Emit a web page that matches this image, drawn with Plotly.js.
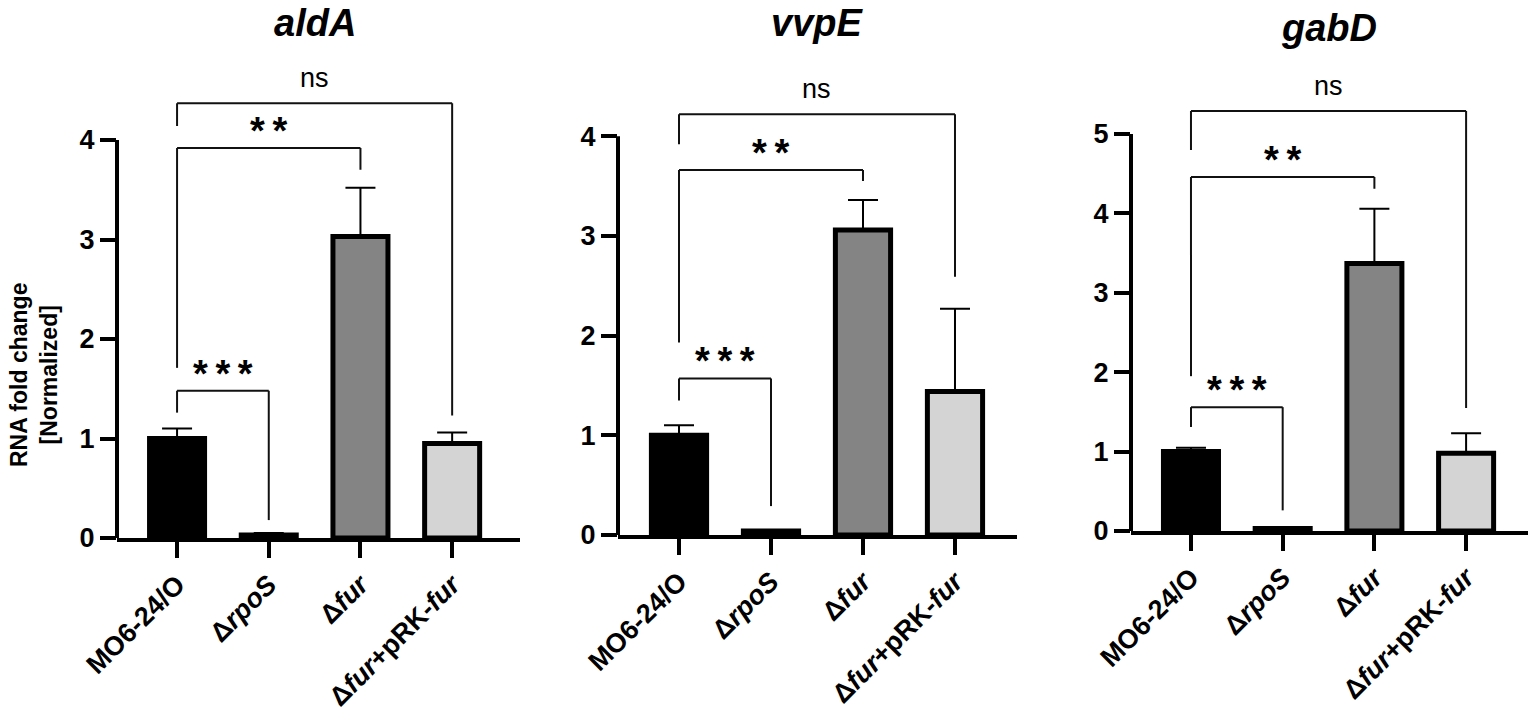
<!DOCTYPE html>
<html lang="en">
<head>
  <meta charset="UTF-8">
  <title>RNA fold change</title>
  <script src="https://cdn.plot.ly/plotly-3.0.1.min.js" charset="utf-8"></script>
  <style>
    html, body { margin: 0; padding: 0; background: #fff; }
    #chart { width: 1536px; height: 725px; }
  </style>
</head>
<body>
  <div id="chart"></div>
  <script>
    // strains on the x axis (same for every panel)
    const strains = ['MO6-24/O', 'Δ<i>rpoS</i>', 'Δ<i>fur</i>', 'Δ<i>fur</i>+pRK-<i>fur</i>'];
    const barColors = ['#000000', '#ffffff', '#848484', '#d4d4d4'];

    // mean and SD per gene
    const aldAMean = [1.00, 0.03, 3.03, 0.95];
    const aldASD   = [0.10, 0.02, 0.49, 0.11];
    const vvpEMean = [1.00, 0.04, 3.06, 1.44];
    const vvpESD   = [0.10, 0.01, 0.30, 0.83];
    const gabDMean = [1.00, 0.03, 3.37, 0.98];
    const gabDSD   = [0.05, 0.02, 0.69, 0.25];

    // significance brackets, all start at MO6-24/O (index 0)
    const sigTo     = [1, 2, 3];
    const sigLabels = ['*\u2009*\u2009*', '*\u2009*', 'ns'];
    const aldATop   = [1.48, 3.92, 4.37];
    const aldALeft  = [1.26, 1.71, 4.14];
    const aldARight = [0.18, 3.70, 1.23];
    const vvpETop   = [1.57, 3.66, 4.22];
    const vvpELeft  = [1.35, 1.93, 3.92];
    const vvpERight = [0.29, 3.55, 2.59];
    const gabDTop   = [1.56, 4.46, 5.29];
    const gabDLeft  = [1.31, 1.95, 4.80];
    const gabDRight = [0.26, 4.31, 1.55];

    const W = 1536, H = 725;
    const FONT = 'Liberation Sans, Arial, Helvetica, sans-serif';

    // pixel layout of each panel: axis left/right, zero line, px per unit
    const panels = [
      { gene: 'aldA', mean: aldAMean, sd: aldASD, top: aldATop, left: aldALeft, right: aldARight,
        yTicks: [0, 1, 2, 3, 4], yMax: 4.9, x0px: 117, x1px: 520, xr: [-0.655, 3.74], zeroPx: 538, unit: 99.5 },
      { gene: 'vvpE', mean: vvpEMean, sd: vvpESD, top: vvpETop, left: vvpELeft, right: vvpERight,
        yTicks: [0, 1, 2, 3, 4], yMax: 4.9, x0px: 618, x1px: 1017, xr: [-0.663, 3.674], zeroPx: 535, unit: 99.7 },
      { gene: 'gabD', mean: gabDMean, sd: gabDSD, top: gabDTop, left: gabDLeft, right: gabDRight,
        yTicks: [0, 1, 2, 3, 4, 5], yMax: 6.1, x0px: 1131, x1px: 1528, xr: [-0.654, 3.675], zeroPx: 531, unit: 79.4 }
    ];

    const data = [];
    const shapes = [];
    const annotations = [];
    const layout = {
      width: W, height: H,
      margin: { l: 0, r: 0, t: 0, b: 0 },
      paper_bgcolor: '#fff', plot_bgcolor: '#fff',
      showlegend: false,
      font: { family: FONT, color: '#000' }
    };

    panels.forEach(function (p, i) {
      const n = i === 0 ? '' : String(i + 1);
      const xa = 'x' + n, ya = 'y' + n;
      const xs = strains.map(function (s, k) { return k; });

      data.push({
        type: 'bar', x: xs, y: p.mean, xaxis: xa, yaxis: ya, width: 0.6,
        marker: { color: barColors, line: { color: '#000', width: 5 } },
        error_y: { type: 'data', symmetric: false, array: p.sd, arrayminus: p.sd.map(function () { return 0; }),
                   color: '#000', thickness: 2, width: 15 },
        hoverinfo: 'y'
      });

      const xDom = [p.x0px / W, p.x1px / W];
      const yDom = [1 - p.zeroPx / H, 1 - (p.zeroPx - p.unit * p.yMax) / H];

      layout['xaxis' + n] = {
        domain: xDom, range: p.xr, anchor: ya,
        tickmode: 'array', tickvals: xs, ticktext: strains, tickangle: -45,
        ticks: 'outside', ticklen: 16, tickwidth: 4, tickcolor: '#000',
        showline: true, linewidth: 4, linecolor: '#000',
        showgrid: false, zeroline: false, fixedrange: true,
        tickfont: { family: FONT, size: 27, weight: 'bold', color: '#000' }
      };
      layout['yaxis' + n] = {
        domain: yDom, range: [0, p.yMax], anchor: xa,
        tickmode: 'array', tickvals: p.yTicks,
        ticks: 'outside', ticklen: 16, tickwidth: 4, tickcolor: '#000',
        showline: false, showgrid: false, zeroline: false, fixedrange: true,
        tickfont: { family: FONT, size: 27, weight: 'bold', color: '#000' }
      };

      // y axis line only up to the last tick
      shapes.push({
        type: 'line', xref: 'paper', yref: ya, x0: xDom[0], x1: xDom[0],
        y0: 0, y1: p.yTicks[p.yTicks.length - 1], line: { color: '#000', width: 4 }
      });

      // brackets and labels
      sigTo.forEach(function (to, k) {
        const ln = { color: '#111', width: 2 };
        shapes.push({ type: 'line', xref: xa, yref: ya, x0: 0, x1: 0, y0: p.left[k], y1: p.top[k], line: ln });
        shapes.push({ type: 'line', xref: xa, yref: ya, x0: 0, x1: to, y0: p.top[k], y1: p.top[k], line: ln });
        shapes.push({ type: 'line', xref: xa, yref: ya, x0: to, x1: to, y0: p.top[k], y1: p.right[k], line: ln });
        const isNs = sigLabels[k] === 'ns';
        annotations.push({
          xref: xa, yref: ya, x: to / 2, y: p.top[k], yanchor: 'bottom',
          yshift: isNs ? 8 : -6,
          text: sigLabels[k], showarrow: false,
          font: isNs ? { family: FONT, size: 27, color: '#000' }
                     : { family: FONT, size: 38, weight: 'bold', color: '#000' }
        });
      });

      // panel title
      annotations.push({
        xref: xa, yref: 'paper', x: 1.5, y: 1 - (i === 2 ? 28 : 23) / H, yanchor: 'middle',
        text: p.gene, showarrow: false,
        font: { family: FONT, size: 38, weight: 'bold', style: 'italic', color: '#000' }
      });
    });

    annotations.push({
      xref: 'paper', yref: 'paper', x: 34 / W, y: 1 - 375 / H, xanchor: 'center', yanchor: 'middle',
      textangle: -90,
      text: 'RNA fold change<br>[Normalized]', showarrow: false,
      font: { family: FONT, size: 23, weight: 'bold', color: '#000' }
    });

    layout.shapes = shapes;
    layout.annotations = annotations;

    Plotly.newPlot('chart', data, layout, { displayModeBar: false, staticPlot: true });
  </script>
</body>
</html>
